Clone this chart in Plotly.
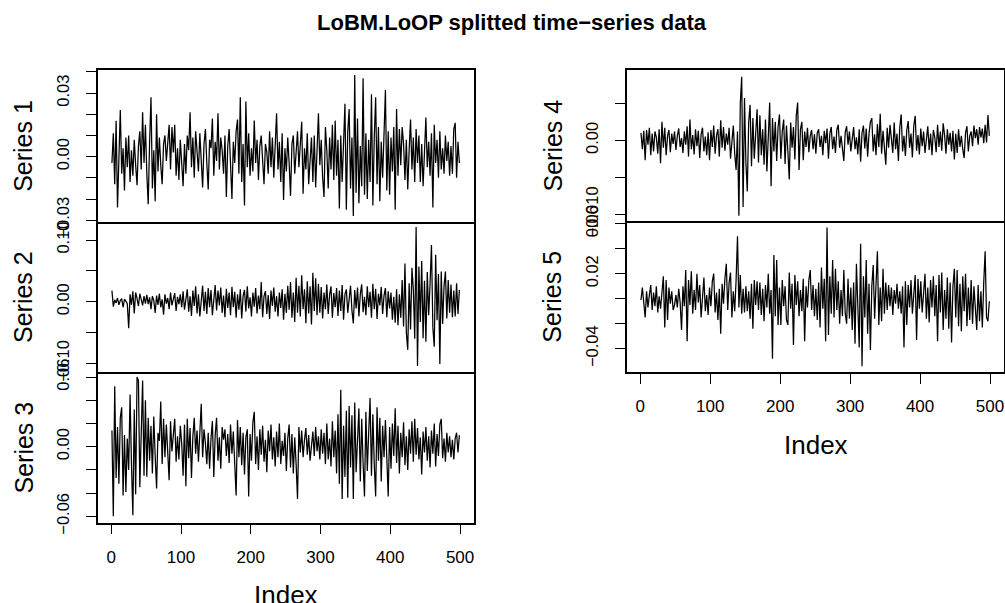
import plotly.graph_objects as go

W, H = 1005, 603
SCALE = 1e-5  # values below are stored in units of 1e-5

series1 = [
    -300, 1100, -1300, 1700, -2400, 600, 2200, -800, 400, -1600, 900, -500, 1000, -1200, 300, -900, 800, -400, -1350, 500, 1200, -600, 2100, -300, 1500,
    -800, -2250, 700, 2800, -1500, 300, -2100, 2000, -700, 900, -400, -1300, 600, 1000, -200, 500, 1500, -600, 1400, 200, 1500, -900, 400, -1100, 800,
    -300, -1400, 600, -800, 1000, 300, 2100, -500, 900, -1000, 1200, 200, -700, 1100, -400, -1450, 600, 1300, -300, -1550, 800, 400, 1800, -900, 700,
    -200, 2050, -600, 900, 300, -800, 1000, -1900, 500, 1300, -400, -2000, 700, -300, 1200, 1750, -800, 2800, -1200, 600, -2300, 2600, -500, 1100, -900,
    400, -700, 1700, -300, 800, -1100, 500, 1000, -400, -1300, 600, 200, -800, 1200, -500, 900, -1000, 300, 2050, -600, 700, -1200, 1100, -2050, 400,
    -700, 900, -300, -1850, 600, 1000, -800, 300, 1200, -500, 800, 1650, -1750, 400, -600, 1100, -1300, 200, 900, -1200, 1000, -1450, 500, 2050, -400,
    800, -1000, -1900, 1400, 300, -1500, 900, -600, 1500, -1100, 1700, -900, 800, -2450, 1000, -1200, 600, 2500, -2500, 1200, 2250, -1500, 900, -2800, 3850,
    -1700, 1800, -2200, 500, -1400, 3700, -1800, 1100, -2000, 800, -1200, 2950, -2300, 900, 2800, -1300, 1400, -2100, 700, -1000, 1800, 3150, -1600, 1200, -1800,
    900, -700, 1400, -2500, 2250, -900, 1300, -400, 1400, 600, -1100, 800, -1550, 300, 1750, -600, 900, -1200, 1300, -300, 1000, -1200, 600, -1400, 400,
    1850, -500, 700, -900, 1100, -2400, 1500, -300, 800, -1000, 1200, -600, 400, -800, 1000, -200, 700, -900, 500, -800, 1300, 1600, -1000, 700, -300,
]

series2 = [
    1800, -800, 300, -200, 600, -500, 200, 500, -900, 400, 100, -300, -4300, 1200, -500, 1700, -1900, 1500, 500, -700, 1300, 200, -600, 900, -300,
    1100, -400, 700, -1200, 900, 200, -1800, 1000, -500, 1300, -900, 400, -2100, 1200, -300, 600, -1200, 1500, -600, 300, 1400, -1500, 800, -400, 1200,
    -900, 1700, -1300, 500, 2000, -1600, 900, -2300, 1800, -700, 2500, -1900, 1200, -2400, 800, 2600, -1500, 1600, -2000, 2200, -900, 1900, -2200, 1000, 2700,
    -1400, 1800, -600, 2300, -1800, 1000, -2500, 2100, -1000, 1500, -2200, 2400, -900, 1600, -2600, 1200, -1300, 2000, -2700, 900, 1900, -1600, 2500, -1100, 700,
    -2400, 1500, -800, 2200, -1900, 1000, -1200, 3200, -2500, 900, 1700, -2000, 1100, -2800, 1800, -700, 2300, -1600, 900, -2400, 1500, -1000, 2000, -2900, 1300,
    -1800, 2600, -1300, 3200, -2600, 1500, -3300, 3900, -1800, 2600, -2400, 4300, -1200, 2000, -3500, 3300, -1900, 2500, -3700, 4700, -1500, 3800, -2200, 2900, -1800,
    2400, -2700, 1500, -1200, 2800, -2000, 1100, 2500, -2600, 1400, -900, 2200, -2300, 1800, -1500, 2700, -2900, 1200, 2000, -1800, 800, 2600, -1400, -3500, 1900,
    -1100, 2300, -2400, 1200, 2800, -1700, 800, -2200, 2500, -900, 1600, -2600, 2900, -1200, 2100, -2800, 1300, -600, 2400, -2000, 1000, 2200, -2500, 1700, -1100,
    1500, -2900, 800, -3400, 2000, -3800, 1200, -2600, 3500, -4000, 6200, -5000, -7800, 3000, -4500, 5500, 2000, -6000, 12100, -10400, 5700, -3300, 6600, -5900, 3400,
    -6500, 4800, -2200, 3000, 9200, -4200, -7300, 7600, -3000, 4500, -10100, 4900, -3600, 2500, 4900, -2700, 3500, -1800, 2800, -2500, 1800, -2400, 3000, -2000, 1900,
]

series3 = [
    1400, -6000, 5200, -2700, 1700, -3200, 2500, 3400, -4200, 1000, -3900, 700, -2000, 4500, -1500, -5900, 3200, -4100, 6000, 5700, -3500, 1900, 5700, -2500, 4000,
    -2600, 2500, -1200, 1800, -2300, 2600, -800, -3600, 1200, 500, 3900, -1500, 2400, -900, 1900, -600, -2900, 2200, -400, 1000, 2400, -1300, 900, -1100, 1800,
    300, -2500, 1900, -3400, 2400, -1000, 1600, -2700, 900, 2500, -600, 1400, -1300, 800, 3700, -900, 1500, 300, -1500, 1200, -1900, 700, 2200, -2600, 1000,
    2500, -1200, 800, -1900, 1700, 600, 1500, -800, 1100, -1400, 1900, -600, 1300, -2100, -4200, 2300, -900, 1700, -1600, 1200, -2400, 800, 1500, -4300, 1100,
    -1200, 2100, 3000, -1500, 900, -2000, 1500, -700, 1800, -1300, 600, -2200, 1400, -400, 1900, -1100, 800, -1700, 1300, -900, 2000, -1500, 500, -800, 1200,
    -2100, 700, 1900, -1800, 1100, -2300, 800, -1500, -4500, 1700, -500, 1400, -900, 600, 1600, -700, 1000, -1200, 500, 1300, -800, 1700, -400, 900, -1100,
    1500, -600, 1200, -1500, 2000, -1100, 700, -1700, 2200, -900, 1400, -2300, 2800, -3200, 4900, -4500, 1800, -2600, 3100, -4400, 3500, -1800, 2700, -4500, 3800,
    -2200, 1500, 3300, -3000, 2400, -1400, -4300, 3000, -2100, 1200, 4200, -2500, 2800, -1500, -4300, 3400, -1200, 2500, -3000, 1800, -900, 2300, -2000, -4300, 1700,
    -1900, 2000, -800, 3300, -1400, 1800, -2300, 1200, -900, 2100, -1600, 900, -2000, 1500, -600, 2200, -1300, 2400, -700, 1600, -1100, 800, -2400, 1300, -500,
    1700, -1200, 900, -1800, 1400, -600, 2000, -1700, 1100, -800, 1900, 2400, -1000, 700, -1300, 1200, -500, 900, -900, 600, -1100, 700, 1200, -500, 1000,
]

series4 = [
    100, -120, 130, -270, 140, -60, 170, -200, 90, -150, 120, 40, -180, 150, -310, 250, -100, 170, -200, 60, 140, -160, 90, -50, 120,
    -130, 60, 160, -90, 30, -170, 120, -60, 190, -220, 280, -120, 70, -190, 150, -80, 130, -240, 80, 170, -150, 50, -200, 110, -270,
    140, -90, 200, -180, 60, 150, -220, 270, -100, 180, -140, 90, -60, 170, -250, 40, 200, -180, -400, 120, -1020, 500, 860, -900, 570,
    -300, -690, 250, 480, -350, 300, -250, 200, 420, -300, 340, -200, 150, -330, 280, -420, 160, 510, -620, 300, -150, 250, -280, 180, 350,
    -250, 120, 280, -320, 200, -150, -530, 240, -100, 180, -260, 330, 510, -400, 150, 250, -270, 120, -90, 170, -160, 60, 140, -120, 80,
    -180, 100, 150, -90, 60, -200, 130, -40, 160, -250, 90, 180, -120, 50, -170, 140, 210, -100, 60, -140, -280, 110, 190, -60, 120,
    -150, 70, 180, -120, 40, -190, 150, -290, 100, 200, -110, 160, -220, 90, 250, 300, -150, 80, -200, 220, -90, 360, -180, 130, -60,
    -330, 170, -100, 210, 50, -170, 240, -120, 90, -280, 180, 350, -150, 60, -210, 140, 260, -100, 90, -230, 200, 330, -140, 70, -190,
    160, -80, 120, -170, 60, 190, -130, 90, -200, 140, 40, -160, 210, -90, 120, -140, 230, 70, -180, 150, -60, 100, -150, 130, -260,
    90, -170, 150, -90, 60, -120, -240, 100, 190, -150, 60, 120, -80, 200, 30, 150, -60, 180, 40, 160, -40, 210, -30, 340, 60,
]

series5 = [
    -100, 900, -300, -1500, 600, -700, 300, 1100, -900, 500, -600, 1000, -1100, 200, -800, 700, 1800, -2300, 1500, -1700, 900, -400, 600, -900, -500,
    300, -700, 800, -300, -2500, 1000, -600, 2300, -3400, 1500, -500, 2200, -1200, 700, -900, 2000, -300, 1100, -1500, 600, 1700, -1000, 300, -1300, 900,
    -600, 1400, 2000, -1100, 500, -1700, 800, -2800, 1200, -400, 1600, 2800, -900, 1300, 2100, -1500, 600, -1000, 1500, 5000, -700, 1900, -1200, 800, -1100,
    1000, -1000, 600, -1600, 1200, -2400, 1500, -500, 1400, -900, 1300, -1300, 800, -1800, 1100, -700, 2000, -1200, 700, -4800, 3500, -1400, 3100, -2100, 900,
    -2100, 1500, -600, 1000, -1700, -2100, 2100, -800, 1200, -3700, 1900, -500, 1400, -1400, 700, -1000, 1600, -3400, 1000, -700, 1500, 2300, -900, 1100, -1400,
    800, -1700, 1300, -2300, 2500, -800, 1600, -3400, 5700, -2900, 1800, -1200, 3100, -1500, 2400, -900, 1400, -2000, 700, -1400, 2300, -1200, -2000, 1600, -1600,
    900, -2500, 1300, -3600, 2800, -1700, -3900, 4400, -5400, 1800, -1500, 3100, -2800, 1200, -4100, 1000, 2700, -1600, 1200, 3800, -2100, 900, -1800, 2400, -1200,
    1300, -900, 1100, -600, 900, -1300, 700, -400, 1200, -800, 600, -1200, 1000, -3900, 1400, -2100, 1100, -700, 1500, -1200, 800, 1900, -3300, 1600, -800,
    1400, -1100, 600, 2000, -1600, 900, -1900, 1500, -700, 1800, -1400, 1100, -3400, 1900, -1100, 2100, -2500, 700, -1600, 1700, -2400, 1300, -3500, 1000, 2400,
    -1500, 2300, -2200, 1200, -2600, 1800, -1000, 2000, -2200, 900, -1700, 1500, -2000, 1000, -1200, -2500, 1100, -1800, 600, -2300, 1300, 3800, -1500, -1800, -200,
]

series_names = ["Series 1", "Series 2", "Series 3", "Series 4", "Series 5"]
all_series = [series1, series2, series3, series4, series5]

x_ticks = [0, 100, 200, 300, 400, 500]
y_tickvals = [
    [-0.03, -0.02, -0.01, 0.0, 0.01, 0.02, 0.03, 0.04],
    [-0.10, -0.05, 0.0, 0.05, 0.10],
    [-0.06, -0.04, -0.02, 0.0, 0.02, 0.04, 0.06],
    [-0.010, -0.005, 0.0, 0.005],
    [-0.04, -0.02, 0.0, 0.02, 0.04, 0.06],
]
y_ticktext = [
    ["\u22120.03", "", "", "0.00", "", "", "0.03", ""],
    ["\u22120.10", "", "0.00", "", "0.10"],
    ["\u22120.06", "", "", "0.00", "", "", "0.06"],
    ["\u22120.010", "", "0.00", ""],
    ["\u22120.04", "", "", "0.02", "", "0.06"],
]

# layout geometry (pixels)
panels = [
    dict(xpx=(98, 474), ypx=(70, 221.7), yr=(-0.0307, 0.0409), top=True, bottom=False),
    dict(xpx=(98, 474), ypx=(221.7, 372.3), yr=(-0.1144, 0.1297), top=False, bottom=False),
    dict(xpx=(98, 474), ypx=(372.3, 522.7), yr=(-0.0655, 0.0641), top=False, bottom=True),
    dict(xpx=(627, 1004), ypx=(70, 221), yr=(-0.0109, 0.0095), top=True, bottom=False),
    dict(xpx=(627, 1004), ypx=(221, 372.3), yr=(-0.0589, 0.0622), top=False, bottom=True),
]

FONT = "Liberation Sans, Arial, Helvetica, sans-serif"
fig = go.Figure()
layout = dict(
    template="none",
    autosize=False,
    width=W, height=H, margin=dict(l=0, r=0, t=0, b=0, pad=0, autoexpand=False),
    paper_bgcolor="white", plot_bgcolor="white", showlegend=False,
    font=dict(family=FONT, color="black", size=16),
)
annotations = []
for i, (name, vals, p) in enumerate(zip(series_names, all_series, panels), start=1):
    xs = [1 + 2 * k for k in range(len(vals))]
    ys = [v * SCALE for v in vals]
    fig.add_trace(go.Scatter(x=xs, y=ys, mode="lines", xaxis=f"x{i}", yaxis=f"y{i}",
                             line=dict(color="black", width=1.25), hoverinfo="skip"))
    xd = [p["xpx"][0] / W, p["xpx"][1] / W]
    yd = [1 - p["ypx"][1] / H, 1 - p["ypx"][0] / H]
    layout[f"xaxis{i}"] = dict(
        domain=xd, range=[-18.96, 519.96], anchor=f"y{i}", automargin=False,
        showgrid=False, zeroline=False, showline=True, mirror=p["top"],
        linecolor="black", linewidth=1.5,
        tickmode="array", tickvals=x_ticks if p["bottom"] else [],
        ticks="outside" if p["bottom"] else "", ticklen=10, tickwidth=1.2, tickcolor="black",
        showticklabels=p["bottom"], ticklabelstandoff=8,
        tickfont=dict(family=FONT, size=17, color="black"),
    )
    layout[f"yaxis{i}"] = dict(
        domain=yd, range=list(p["yr"]), anchor=f"x{i}", automargin=False,
        showgrid=False, zeroline=False, showline=True, mirror=True,
        linecolor="black", linewidth=1.5,
        tickmode="array", tickvals=y_tickvals[i - 1], ticktext=y_ticktext[i - 1],
        ticks="outside", ticklen=10, tickwidth=1.2, tickcolor="black",
        tickangle=-90, ticklabelstandoff=11,
        tickfont=dict(family=FONT, size=16.5, color="black"),
    )
    annotations.append(dict(
        text=name, textangle=-90, showarrow=False, xref="paper", yref="paper",
        x=(p["xpx"][0] - 75) / W, y=1 - (p["ypx"][0] + p["ypx"][1]) / 2 / H,
        xanchor="center", yanchor="middle", font=dict(family=FONT, size=25, color="black"),
    ))
    if p["bottom"]:
        annotations.append(dict(
            text="Index", showarrow=False, xref="paper", yref="paper",
            x=(p["xpx"][0] + p["xpx"][1]) / 2 / W, y=1 - (p["ypx"][1] + 72.5) / H,
            xanchor="center", yanchor="middle", font=dict(family=FONT, size=26, color="black"),
        ))

annotations.append(dict(
    text="<b>LoBM.LoOP splitted time\u2212series data</b>", showarrow=False,
    xref="paper", yref="paper", x=511.5 / W, y=1 - 22 / H,
    xanchor="center", yanchor="middle", font=dict(family=FONT, size=22, color="black"),
))
layout["annotations"] = annotations
fig.update_layout(**layout)
fig.write_html("out.html", config={"displayModeBar": False},
               post_script="document.body.style.margin='0px';")
